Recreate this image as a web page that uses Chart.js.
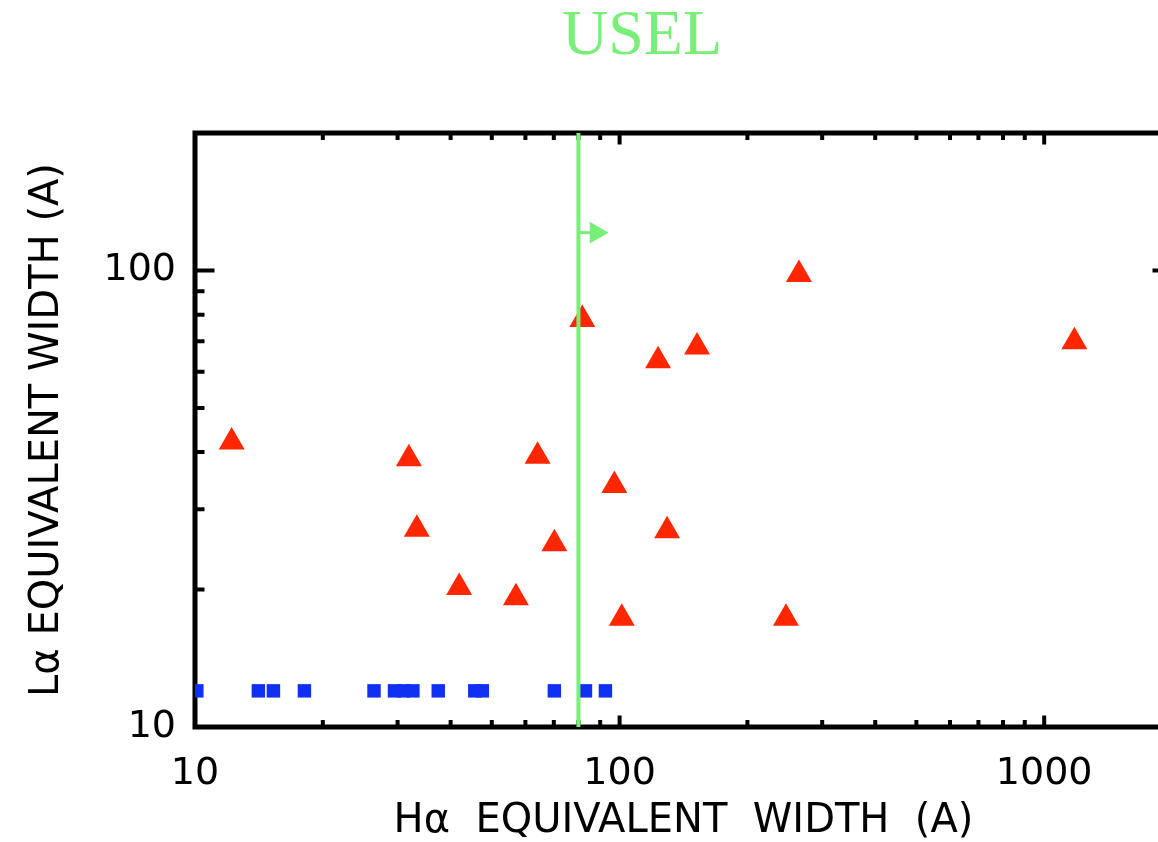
<!DOCTYPE html>
<html>
<head>
<meta charset="utf-8">
<script src="https://cdn.jsdelivr.net/npm/chart.js@4/dist/chart.umd.min.js"></script>
<style>
  html, body { margin: 0; padding: 0; background: #fff; overflow: hidden; }
  #wrap { width: 1284px; height: 842px; }
</style>
</head>
<body>
<div id="wrap"><canvas id="c"></canvas></div>
<script>
// data
const triHaEW = [12.2, 31.9, 33.3, 41.9, 57.0, 64.1, 70.2, 81.7, 97.2, 101.2, 123.2, 129.4, 152.2, 246.5, 264.5, 1178];
const triLaEW = [42.1, 38.7, 27.1, 20.2, 19.2, 39.2, 25.2, 78.1, 33.8, 17.3, 63.4, 26.9, 68.0, 17.3, 98.0, 69.8];
const sqHaEW  = [10.1, 14.1, 15.3, 18.1, 26.4, 29.5, 31.0, 32.6, 37.4, 45.6, 47.5, 70.2, 83.1, 92.6];
const sqLaEW  = [12, 12, 12, 12, 12, 12, 12, 12, 12, 12, 12, 12, 12, 12];
const cutHaEW = 80;       // USEL cut
const arrowLaEW = 121;
const xTicks = [10, 100, 1000];
const yTicks = [10, 100];
const xRange = [10, 2000];
const yRange = [10, 200];
const titleText = 'USEL';

const GREEN = '#78f078';
const RED = '#ff2600';
const BLUE = '#0f30f2';

const pts = (xs, ys) => xs.map((v, i) => ({ x: v, y: ys[i] }));

// frame with inward ticks, IDL style
const frame = {
  id: 'frame',
  beforeDatasetsDraw(chart) {
    const { ctx, chartArea: a, scales: { x, y } } = chart;
    ctx.save();
    ctx.strokeStyle = '#000';
    ctx.lineWidth = 5;
    ctx.strokeRect(a.left, a.top, a.right - a.left, a.bottom - a.top);
    ctx.lineWidth = 4;
    ctx.beginPath();
    for (let d = 10; d <= 1000; d *= 10) {
      for (let k = 1; k <= 9; k++) {
        const v = k * d;
        if (v < xRange[0] || v > xRange[1]) continue;
        const px = x.getPixelForValue(v);
        const len = k === 1 ? 11.5 : 7;
        ctx.moveTo(px, a.bottom); ctx.lineTo(px, a.bottom - len);
        ctx.moveTo(px, a.top); ctx.lineTo(px, a.top + len);
      }
    }
    for (let d = 10; d <= 100; d *= 10) {
      for (let k = 1; k <= 9; k++) {
        const v = k * d;
        if (v < yRange[0] || v > yRange[1]) continue;
        const py = y.getPixelForValue(v);
        const len = k === 1 ? 19.5 : 9.5;
        ctx.moveTo(a.left, py); ctx.lineTo(a.left + len, py);
        ctx.moveTo(a.right, py); ctx.lineTo(a.right - len, py);
      }
    }
    ctx.stroke();
    ctx.restore();
  },
  // the title sits off-centre in the original, so place it by hand
  afterDraw(chart) {
    const ctx = chart.ctx;
    ctx.save();
    ctx.fillStyle = GREEN;
    ctx.font = "64px 'Liberation Serif', serif";
    ctx.textAlign = 'center';
    ctx.textBaseline = 'alphabetic';
    ctx.fillText(titleText, 642, 54);
    ctx.restore();
  }
};

new Chart(document.getElementById('c'), {
  type: 'scatter',
  data: {
    datasets: [
      {
        data: [{ x: cutHaEW, y: yRange[0] }, { x: cutHaEW, y: yRange[1] }],
        showLine: true, borderColor: GREEN, borderWidth: 4, pointRadius: 0,
        clip: { left: 0, right: 0, top: 3, bottom: 3 }, order: 0
      },
      {
        data: [{ x: cutHaEW, y: arrowLaEW }, { x: 88, y: arrowLaEW }],
        showLine: true, borderColor: GREEN, borderWidth: 3,
        pointRadius: [0, 12.5], pointStyle: 'triangle', rotation: 90,
        backgroundColor: GREEN, pointBorderWidth: 0, order: 0
      },
      {
        data: pts(triHaEW, triLaEW),
        pointStyle: 'triangle', pointRadius: 15, backgroundColor: RED,
        borderWidth: 0, clip: 0, order: 1
      },
      {
        data: pts(sqHaEW, sqLaEW),
        pointStyle: 'rect', pointRadius: 9.5, backgroundColor: BLUE,
        borderWidth: 0, clip: 0, order: 2
      }
    ]
  },
  options: {
    responsive: true,
    maintainAspectRatio: false,
    animation: false,
    events: [],
    layout: { padding: { left: 0, right: 112, top: 133, bottom: 0 } },
    plugins: {
      legend: { display: false },
      tooltip: { enabled: false },
      title: { display: false }
    },
    scales: {
      x: {
        type: 'logarithmic', min: xRange[0], max: xRange[1],
        afterBuildTicks: (s) => { s.ticks = xTicks.map(v => ({ value: v })); },
        afterFit: (s) => { s.height = 115; },
        grid: { display: false, drawTicks: false },
        border: { display: false },
        ticks: {
          autoSkip: false, maxRotation: 0, padding: 24, color: '#000',
          font: { family: "'DejaVu Sans'", size: 38 },
          callback: (v) => String(v)
        },
        title: {
          display: true, text: 'H\u03b1  EQUIVALENT  WIDTH  (A)', color: '#000',
          font: { family: "'DejaVu Sans'", size: 40, lineHeight: 1.0 },
          padding: { top: 0, bottom: 0 }
        }
      },
      y: {
        type: 'logarithmic', min: yRange[0], max: yRange[1],
        afterBuildTicks: (s) => { s.ticks = yTicks.map(v => ({ value: v })); },
        afterFit: (s) => { s.width = 195; },
        grid: { display: false, drawTicks: false },
        border: { display: false },
        ticks: {
          autoSkip: false, padding: 19, color: '#000',
          font: { family: "'DejaVu Sans'", size: 38 },
          callback: (v) => String(v)
        },
        title: {
          display: true, text: 'L\u03b1 EQUIVALENT WIDTH (A)', color: '#000',
          font: { family: "'DejaVu Sans'", size: 40 },
          padding: { top: 24, bottom: 0 }
        }
      }
    }
  },
  plugins: [frame]
});
</script>
</body>
</html>
